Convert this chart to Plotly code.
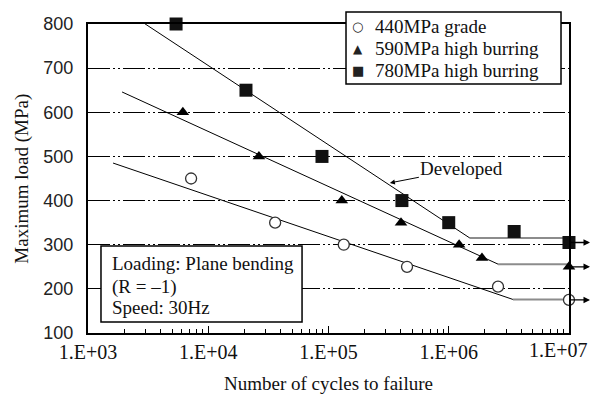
import math
import plotly.graph_objects as go

# S-N fatigue data (cycles to failure, maximum load in MPa)
cycles_440 = [7200, 36000, 134000, 450000, 2570000, 10000000]
load_440 = [450, 350, 300, 250, 205, 175]

cycles_590 = [6150, 26400, 129000, 401000, 1220000, 1890000, 10000000]
load_590 = [600, 500, 400, 350, 300, 270, 250]

cycles_780 = [5400, 20600, 88300, 408000, 1000000, 3500000, 10000000]
load_780 = [800, 650, 500, 400, 350, 330, 305]

# Fitted S-N curves: sloped part (start -> knee), then fatigue-limit plateau
fit_440_x = [1616, 3420000, 10000000]
fit_440_y = [485, 176, 176]
fit_590_x = [1920, 2570000, 10000000]
fit_590_y = [646, 256, 256]
fit_780_x = [2600, 1500000, 10000000]
fit_780_y = [811, 315, 315]

# Run-out (no failure) loads at 1e7 cycles
runout_loads = [305, 250, 175]

# Point on the 780MPa curve that the "Developed" callout points to
developed_x = 324000
developed_y = 440

x_tickvals = [1e3, 1e4, 1e5, 1e6, 1e7]
x_ticktext = ["1.E+03", "1.E+04", "1.E+05", "1.E+06", "1.E+07"]
y_tickvals = [100, 200, 300, 400, 500, 600, 700, 800]

legend_names = ["440MPa grade", "590MPa high burring", "780MPa high burring"]
legend_glyphs = ["\u25CB", "\u25B2", "\u25A0"]

SERIF = "Liberation Serif"
SANS = "Liberation Sans"
TXT = "#111"

fig = go.Figure()

# Fitted lines
for fx, fy in [(fit_440_x, fit_440_y), (fit_590_x, fit_590_y), (fit_780_x, fit_780_y)]:
    fig.add_trace(go.Scatter(x=fx[:2], y=fy[:2], mode="lines",
                             line=dict(color="black", width=1), showlegend=False,
                             hoverinfo="skip"))
    fig.add_trace(go.Scatter(x=fx[1:], y=fy[1:], mode="lines",
                             line=dict(color="#8c8c8c", width=2), showlegend=False,
                             hoverinfo="skip"))

series = [
    (legend_names[0], cycles_440, load_440,
     dict(symbol="circle", size=11, color="white", line=dict(color="#333", width=1.3))),
    (legend_names[1], cycles_590, load_590,
     dict(symbol="triangle-up", size=11, color="black", line=dict(width=0))),
    (legend_names[2], cycles_780, load_780,
     dict(symbol="square", size=13, color="#111", line=dict(width=0))),
]

for name, xs, ys, mk in series:
    fig.add_trace(go.Scatter(x=xs, y=ys, mode="markers", marker=mk,
                             name=name, showlegend=False, cliponaxis=False))

annotations = []

# Run-out arrows beyond the right border
for yv in runout_loads:
    annotations.append(dict(x=1.0437, xref="paper", y=yv, yref="y", text="",
                            showarrow=True, ax=-21, ay=0, arrowhead=2,
                            arrowsize=1, arrowwidth=1.3, arrowcolor="black"))

# "Developed" callout (annotation x on a log axis is given in log10 units)
annotations.append(dict(x=math.log10(developed_x), y=developed_y, xref="x", yref="y",
                        text="Developed", showarrow=True, ax=72, ay=-14,
                        arrowhead=2, arrowsize=1, arrowwidth=1, arrowcolor="black",
                        standoff=0, font=dict(family=SERIF, size=19, color=TXT)))

# Last x tick label, kept inside the page edge
annotations.append(dict(x=1.0437, y=0, xref="paper", yref="paper",
                        text=x_ticktext[-1], showarrow=False,
                        xanchor="right", yanchor="top", yshift=-4,
                        font=dict(family=SERIF, size=20, color=TXT)))

# Test condition box text
for ytxt, txt in [(0.2265, "Loading: Plane bending"), (0.1489, "(R = \u20131)"),
                  (0.0841, "Speed: 30Hz")]:
    annotations.append(dict(x=0.0457, y=ytxt, xref="paper", yref="paper", text=txt,
                            showarrow=False, xanchor="left", yanchor="middle",
                            font=dict(family=SERIF, size=19, color=TXT)))

# Boxed legend
legend_rows = [0.9935, 0.9191, 0.8479]
for glyph, name, yrow, gsize in zip(legend_glyphs, legend_names, legend_rows, [13, 12, 13]):
    annotations.append(dict(x=0.5613, y=yrow, xref="paper", yref="paper", text=glyph,
                            showarrow=False, xanchor="center", yanchor="middle",
                            font=dict(family="DejaVu Sans", size=gsize, color="#222")))
    annotations.append(dict(x=0.5925, y=yrow, xref="paper", yref="paper", text=name,
                            showarrow=False, xanchor="left", yanchor="middle",
                            font=dict(family=SERIF, size=19, color=TXT)))

# Axis titles
annotations.append(dict(x=0.5, y=-0.165, xref="paper", yref="paper",
                        text="Number of cycles to failure", showarrow=False,
                        xanchor="center", yanchor="middle",
                        font=dict(family=SERIF, size=19, color=TXT)))
annotations.append(dict(x=-0.139, y=0.5, xref="paper", yref="paper",
                        text="Maximum load (MPa)", showarrow=False, textangle=-90,
                        xanchor="center", yanchor="middle",
                        font=dict(family=SERIF, size=19, color=TXT)))

fig.update_layout(
    width=592, height=394,
    margin=dict(l=88, r=23, t=24, b=61, autoexpand=False),
    paper_bgcolor="white", plot_bgcolor="white",
    font=dict(family=SERIF, size=19, color=TXT),
    showlegend=False,
    annotations=annotations,
    shapes=[
        dict(type="rect", xref="paper", yref="paper",
             x0=0.027, x1=0.445, y0=0.0356, y1=0.2816,
             line=dict(color="black", width=1.5), fillcolor="white", layer="above"),
        dict(type="rect", xref="paper", yref="paper",
             x0=0.5364, x1=0.9834, y0=0.8058, y1=1.0388,
             line=dict(color="black", width=1.5), fillcolor="white", layer="above"),
    ],
)

# Axis labels the first four decades; the 1e7 tick mark stays, its label is placed above
fig.update_xaxes(
    type="log", range=[3, 7.0002],
    tickmode="array", tickvals=x_tickvals, ticktext=x_ticktext[:-1] + [""],
    ticks="inside", ticklen=7, tickcolor="black", tickwidth=1,
    minor=dict(ticks="inside", ticklen=4, tickcolor="black", dtick="D1", showgrid=False),
    showgrid=False, showline=True, linecolor="black", linewidth=2, mirror=True,
    tickfont=dict(family=SERIF, size=20, color=TXT), ticklabelstandoff=0,
    automargin=False, zeroline=False,
)

fig.update_yaxes(
    range=[100, 800], tickvals=y_tickvals,
    showgrid=True, gridcolor="black", gridwidth=1.2,
    griddash="22px,3px,2px,3px,2px,3px",
    showline=True, linecolor="black", linewidth=2, mirror=True,
    ticks="", ticklabelstandoff=9,
    tickfont=dict(family=SANS, size=18, color="#222"),
    automargin=False, zeroline=False,
)

fig.write_html("out.html")
